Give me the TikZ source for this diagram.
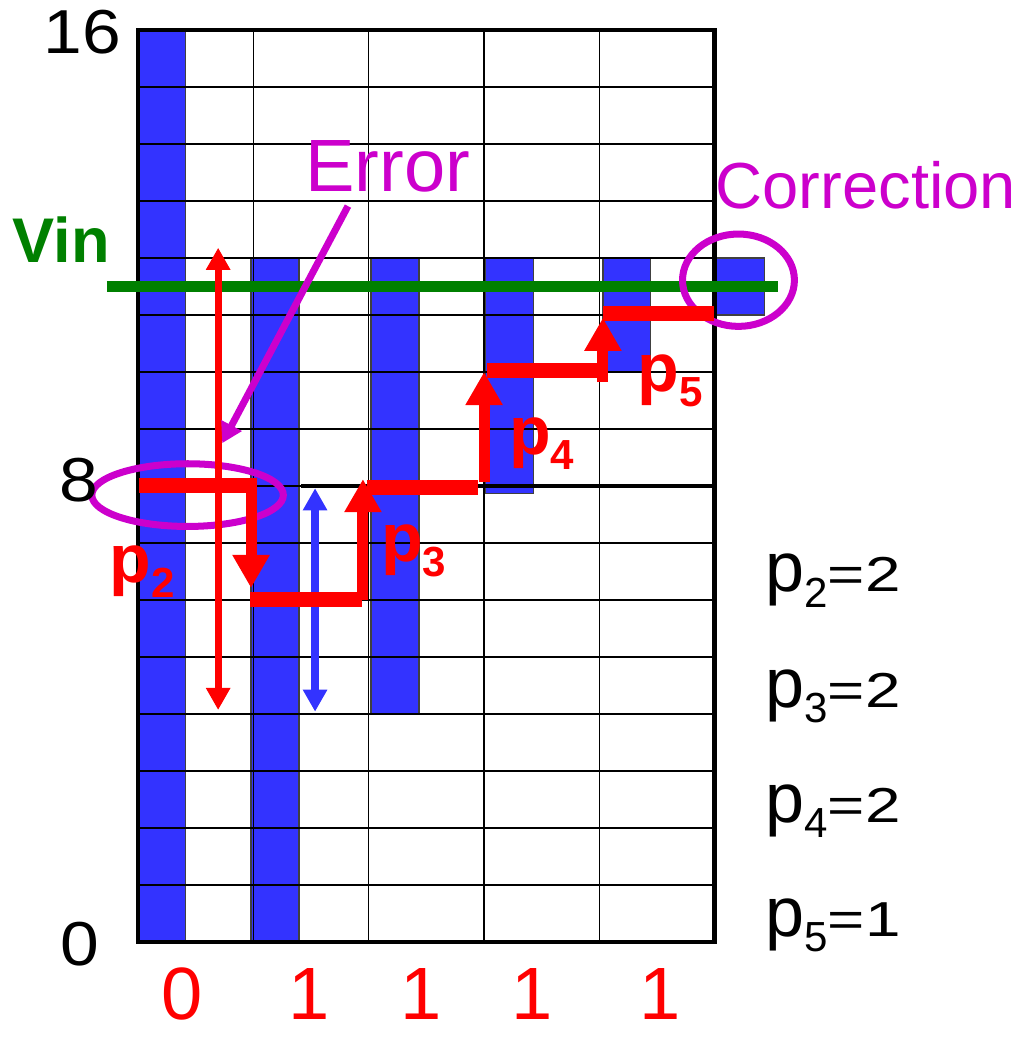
\documentclass[tikz,border=0pt]{standalone}
\usepackage{fontspec}
\setmainfont{Liberation Sans}
\usetikzlibrary{arrows.meta}
\usepackage{xcolor}
\definecolor{barblue}{RGB}{51,51,255}
\definecolor{errpurple}{RGB}{204,0,204}
\definecolor{vingreen}{RGB}{0,128,0}
\newcommand{\fsz}[1]{\fontsize{#1}{#1}\selectfont}
\newcommand{\lowsub}[2]{\raisebox{-7.5pt}{\fsz{#1}#2}}

\begin{document}
\begin{tikzpicture}[x=1.012cm, y=1cm,
  bar/.style={fill=barblue, draw=black!75, line width=0.6pt},
  stair/.style={red, line width=7.5pt},
  stairup/.style={red, line width=5.5pt, -{Triangle[width=17.5pt,length=16.5pt]}},
  thinarr/.style={line width=3.6pt, {Triangle[width=11.5pt,length=11pt]}-{Triangle[width=11.5pt,length=11pt]}},
  circ/.style={errpurple, line width=3.5pt}]

  \useasboundingbox (-2.392,-1.667) rectangle (15.494,16.526);

  % Comparator levels (bars)
  \draw[bar] (0,0) rectangle (0.83,16);
  \foreach \xb/\yb in {1.96/0, 4.04/4, 6.03/7.875, 8.06/10, 10.03/11}
    \draw[bar] (\xb,\yb) rectangle (\xb+0.83,12);

  % Grid
  \foreach \r in {1,...,15} \draw[line width=0.75pt] (0,\r) -- (10,\r);
  \foreach \c in {2,4,6,8} \draw[line width=0.75pt] (\c,0) -- (\c,16);
  \draw[line width=1.6pt] (2.83,8) -- (10,8);
  \draw[line width=2.4pt] (0,0) rectangle (10,16);

  % Input level
  \draw[vingreen, line width=5.5pt] (-0.54,11.5) -- (11.09,11.5);
  \node[vingreen] (vin) at (-1.33,12.32) {\fsz{31.5}\bfseries Vin};

  % Error ellipse and ranges
  \draw[circ] (0.86,7.84) ellipse (1.66 and 0.55);
  \draw[thinarr, red] (1.39,4.07) -- (1.39,12.18);
  \draw[thinarr, barblue] (3.07,4.04) -- (3.07,7.96);

  % Correction ellipse
  \draw[circ] (10.41,11.61) ellipse (0.97 and 0.81);

  % Search path
  \draw[stair] (0.02,8) -- (2.06,8);
  \draw[stairup] (1.96,8.13) -- (1.96,6.21);
  \draw[stair] (1.95,6) -- (3.89,6);
  \draw[stairup] (3.90,6) -- (3.90,8.12);
  \draw[stair] (3.97,7.98) -- (5.89,7.98);
  \draw[stairup] (6.0,8.07) -- (6.0,10.0);
  \draw[stair] (6.05,10.03) -- (8.15,10.03);
  \draw[stairup] (8.06,9.82) -- (8.06,10.95);
  \draw[stair] (8.06,11.02) -- (9.98,11.02);

  \node[red, anchor=base west, inner sep=0] (p2) at (-0.50,6.30) {\fsz{34}\bfseries p\lowsub{21}{2}};
  \node[red, anchor=base west, inner sep=0] (p3) at (4.21,6.67) {\fsz{34}\bfseries p\lowsub{21}{3}};
  \node[red, anchor=base west, inner sep=0] (p4) at (6.43,8.55) {\fsz{34}\bfseries p\lowsub{21}{4}};
  \node[red, anchor=base west, inner sep=0] (p5) at (8.66,9.65) {\fsz{34}\bfseries p\lowsub{21}{5}};

  % Labels
  \node[errpurple] (err) at (4.33,13.6) {\fsz{37}Error};
  \node[errpurple] (corr) at (12.62,13.27) {\fsz{32.5}Correction};
  \coordinate (errtip) at (1.46,8.75);
  \coordinate (errtail) at (3.64,12.91);
  \draw[errpurple, line width=3.5pt, -{Triangle[width=11pt,length=10pt]}] (errtail) -- (errtip);

  \node (l16) at (-0.96,15.96) {\fsz{31}\scalebox{1.12}[1]{16}};
  \node (l8) at (-1.02,8.1) {\fsz{31}\scalebox{1.12}[1]{8}};
  \node (l0) at (-1.0,-0.04) {\fsz{31}\scalebox{1.12}[1]{0}};

  \foreach \xd/\d [count=\i] in {0.76/0, 2.96/1, 4.90/1, 6.83/1, 9.05/1}
    \node[red, inner sep=0] (bit\i) at (\xd,-0.92) {\fsz{37}\d};

  \foreach \yv/\k/\v in {6.14/2/2, 4.11/3/2, 2.09/4/2, 0.09/5/1}
    \node[anchor=base west, inner sep=0] (res\k) at (10.87,\yv)
      {\fsz{35}p\lowsub{21}{\k}\scalebox{1.3}[1]{\fsz{24.5}=\v}};

\end{tikzpicture}
\end{document}
